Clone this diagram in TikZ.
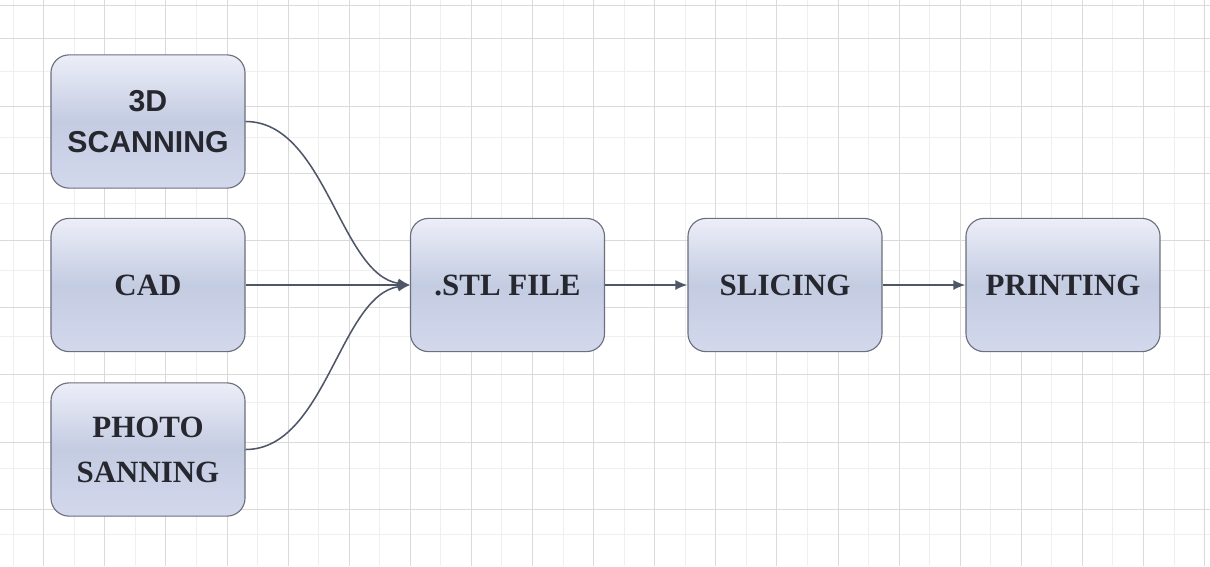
\documentclass[tikz,border=0pt]{standalone}
\usepackage{fontspec}
\setmainfont{Liberation Serif}
\setsansfont{Liberation Sans}
\usetikzlibrary{arrows.meta}

\definecolor{gridminor}{HTML}{EFEFEF}
\definecolor{gridmajor}{HTML}{DADADA}
\definecolor{boxtop}{HTML}{ECEEF8}
\definecolor{boxmid}{HTML}{C4CCE2}
\definecolor{boxbot}{HTML}{D3D8EC}
\definecolor{boxline}{HTML}{6B707C}
\definecolor{linkline}{HTML}{4E5668}
\definecolor{labeltext}{HTML}{26272F}

\tikzset{
  stage/.style={rectangle, rounded corners=0.45cm, draw=boxline, line width=0.8pt,
    top color=boxtop, bottom color=boxbot, middle color=boxmid,
    minimum width=4.85cm, minimum height=3.33cm, align=center, text=labeltext,
    font=\bfseries\fontsize{22}{30}\selectfont},
  link/.style={draw=linkline, line width=1.1pt, -{Latex[length=8.5pt,width=7pt]}}
}

\begin{document}
\begin{tikzpicture}[x=0.025cm,y=-0.025cm]
  \useasboundingbox (0,0) rectangle (1210,566);

  % background grid
  \foreach \x in {12.95,74.05,...,1210} \draw[gridminor] (\x,0) -- (\x,566);
  \foreach \y in {5,71.2,...,566} \draw[gridminor] (0,\y) -- (1210,\y);
  \foreach \x in {43.5,104.6,...,1210} \draw[gridmajor] (\x,0) -- (\x,566);
  \foreach \y in {38.6,105.8,...,566} \draw[gridmajor] (0,\y) -- (1210,\y);
  \draw[gridmajor] (0,5) -- (1210,5);

  \begin{scope}[every node/.style={stage}]
    \node (1) at (148,121.5) [font=\sffamily\bfseries\fontsize{21.5}{29}\selectfont] {3D\\SCANNING};
    \node (2) at (148,285)   {CAD};
    \node (3) at (148,449.5) [font=\bfseries\fontsize{22}{32}\selectfont] {PHOTO\\SANNING};
    \node (4) at (507.5,285) {.STL FILE};
    \node (5) at (785,285)   {SLICING};
    \node (6) at (1063,285)  {PRINTING};
  \end{scope}

  \begin{scope}[every edge/.style={link}]
    \draw[link] (1.east) .. controls +(80,0) and +(-70,-10) .. (4.west);
    \draw[link] (3.east) .. controls +(80,0) and +(-70,10) .. (4.west);
    \path (2) edge (4);
    \path (4) edge (5);
    \path (5) edge (6);
  \end{scope}

\end{tikzpicture}
\end{document}
